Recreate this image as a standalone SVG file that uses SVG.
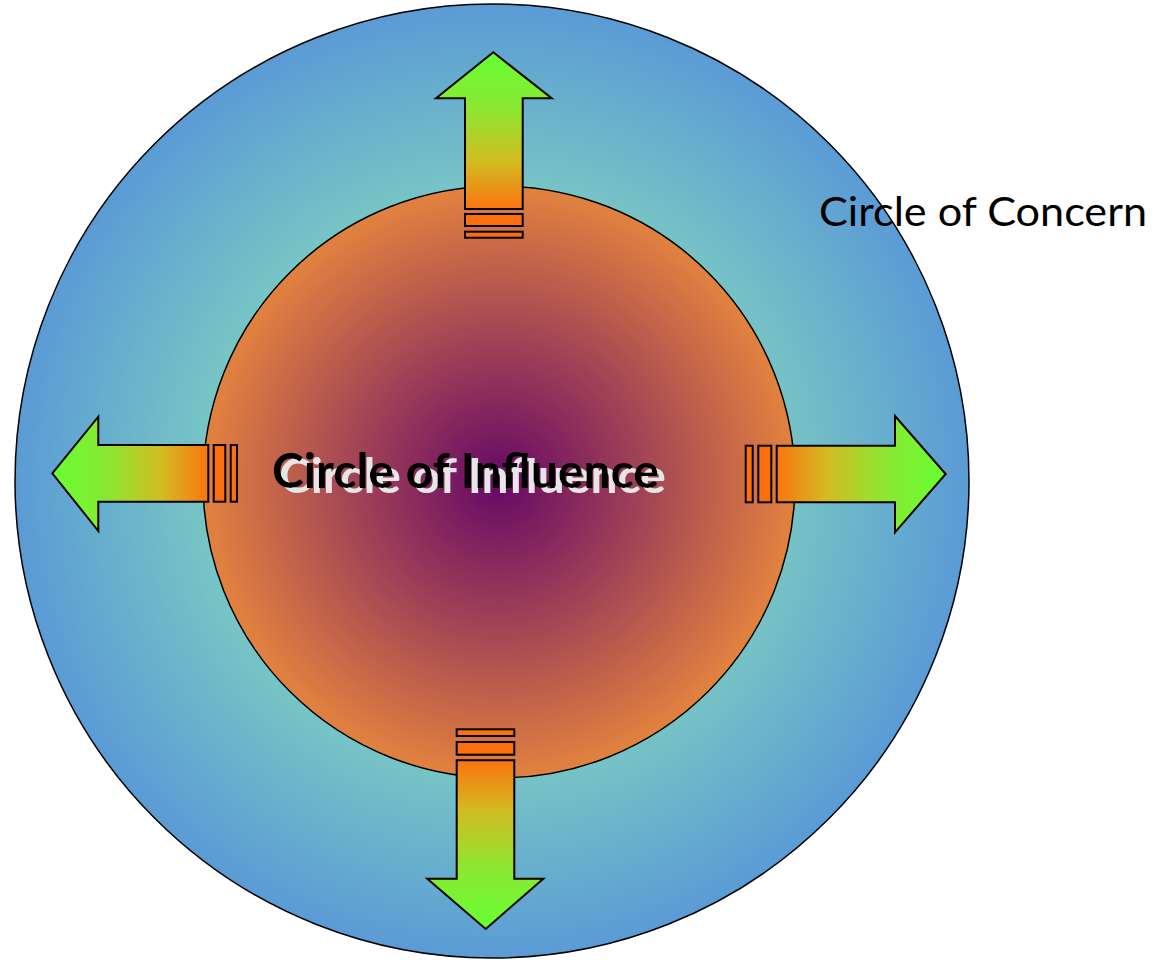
<svg xmlns="http://www.w3.org/2000/svg" width="1158" height="960" viewBox="0 0 1158 960">
  <defs>
    <radialGradient id="gOuter" cx="0.5" cy="0.5" r="0.5">
      <stop offset="0.55" stop-color="#7ccbc2"/>
      <stop offset="1" stop-color="#5a9bd5"/>
    </radialGradient>
    <radialGradient id="gInner" cx="0.5" cy="0.5" r="0.5">
      <stop offset="0" stop-color="#660866"/>
      <stop offset="0.5" stop-color="#a34555"/>
      <stop offset="1" stop-color="#e2823f"/>
    </radialGradient>
    <linearGradient id="gUp" x1="0" y1="0" x2="0" y2="1">
      <stop offset="0" stop-color="#66ff33"/>
      <stop offset="0.35" stop-color="#8ae832"/>
      <stop offset="0.7" stop-color="#d2bc22"/>
      <stop offset="1" stop-color="#fb7410"/>
    </linearGradient>
    <linearGradient id="gDown" x1="0" y1="1" x2="0" y2="0">
      <stop offset="0" stop-color="#66ff33"/>
      <stop offset="0.35" stop-color="#8ae832"/>
      <stop offset="0.7" stop-color="#d2bc22"/>
      <stop offset="1" stop-color="#fb7410"/>
    </linearGradient>
    <linearGradient id="gLeft" x1="0" y1="0" x2="1" y2="0">
      <stop offset="0" stop-color="#66ff33"/>
      <stop offset="0.35" stop-color="#8ae832"/>
      <stop offset="0.7" stop-color="#d2bc22"/>
      <stop offset="1" stop-color="#fb7410"/>
    </linearGradient>
    <linearGradient id="gRight" x1="1" y1="0" x2="0" y2="0">
      <stop offset="0" stop-color="#66ff33"/>
      <stop offset="0.35" stop-color="#8ae832"/>
      <stop offset="0.7" stop-color="#d2bc22"/>
      <stop offset="1" stop-color="#fb7410"/>
    </linearGradient>
    <filter id="shadow" x="-5%" y="-30%" width="115%" height="170%">
      <feOffset in="SourceAlpha" dx="7" dy="5" result="off"/>
      <feFlood flood-color="#e6e6e6"/>
      <feComposite in2="off" operator="in" result="sh"/>
      <feMerge>
        <feMergeNode in="sh"/>
        <feMergeNode in="SourceGraphic"/>
      </feMerge>
    </filter>
  </defs>
  <style>
    .circ { stroke: #000; stroke-width: 1.5; }
    .arrow { stroke: #000; stroke-width: 2; stroke-linejoin: miter; }
    .bar { fill: #fd6f0c; stroke: #000; stroke-width: 2; }
    .lbl { font-family: "Lato", "Liberation Sans", sans-serif; }
  </style>
  <rect width="1158" height="960" fill="#ffffff"/>

  <g id="circle-of-concern">
    <circle class="circ" cx="492" cy="481" r="477" fill="url(#gOuter)"/>
  </g>
  <g id="circle-of-influence">
    <circle class="circ" cx="499" cy="482" r="296" fill="url(#gInner)"/>
  </g>

  <g id="connectors">
    <g id="arrow-up">
      <polygon class="arrow" fill="url(#gUp)" points="493.3,52.3 551.7,98.3 522.7,98.3 522.7,209 465,209 465,98.3 436,98.3"/>
      <rect class="bar" x="465" y="214" width="57.7" height="12"/>
      <rect class="bar" x="465" y="231.7" width="57.7" height="6"/>
    </g>
    <g id="arrow-down">
      <polygon class="arrow" fill="url(#gDown)" points="456.7,760.3 514.3,760.3 514.3,878.7 543.3,878.7 485.7,929 427.3,878.7 456.7,878.7"/>
      <rect class="bar" x="456.7" y="742" width="57.6" height="12.7"/>
      <rect class="bar" x="456.7" y="729.3" width="57.6" height="6.7"/>
    </g>
    <g id="arrow-left">
      <polygon class="arrow" fill="url(#gLeft)" points="52.3,473.3 98.3,416.7 98.3,445 208.3,445 208.3,501.7 98.3,501.7 98.3,531"/>
      <rect class="bar" x="213.7" y="445" width="11.6" height="56.7"/>
      <rect class="bar" x="230.7" y="445" width="6.3" height="56.7"/>
    </g>
    <g id="arrow-right">
      <polygon class="arrow" fill="url(#gRight)" points="776.7,445.7 895,445.7 895,416 945.7,474 895,532.3 895,502.3 776.7,502.3"/>
      <rect class="bar" x="758.3" y="445.7" width="13" height="56.6"/>
      <rect class="bar" x="745.7" y="445.7" width="7" height="56.6"/>
    </g>
  </g>

  <g id="label-influence">
    <text class="lbl" x="272" y="488" font-size="47" font-weight="bold" fill="#000000" filter="url(#shadow)" textLength="387" lengthAdjust="spacingAndGlyphs">Circle of Influence</text>
  </g>
  <g id="label-concern">
    <text class="lbl" x="819" y="226" font-size="41" fill="#000000" textLength="328" lengthAdjust="spacingAndGlyphs">Circle of Concern</text>
  </g>
</svg>
